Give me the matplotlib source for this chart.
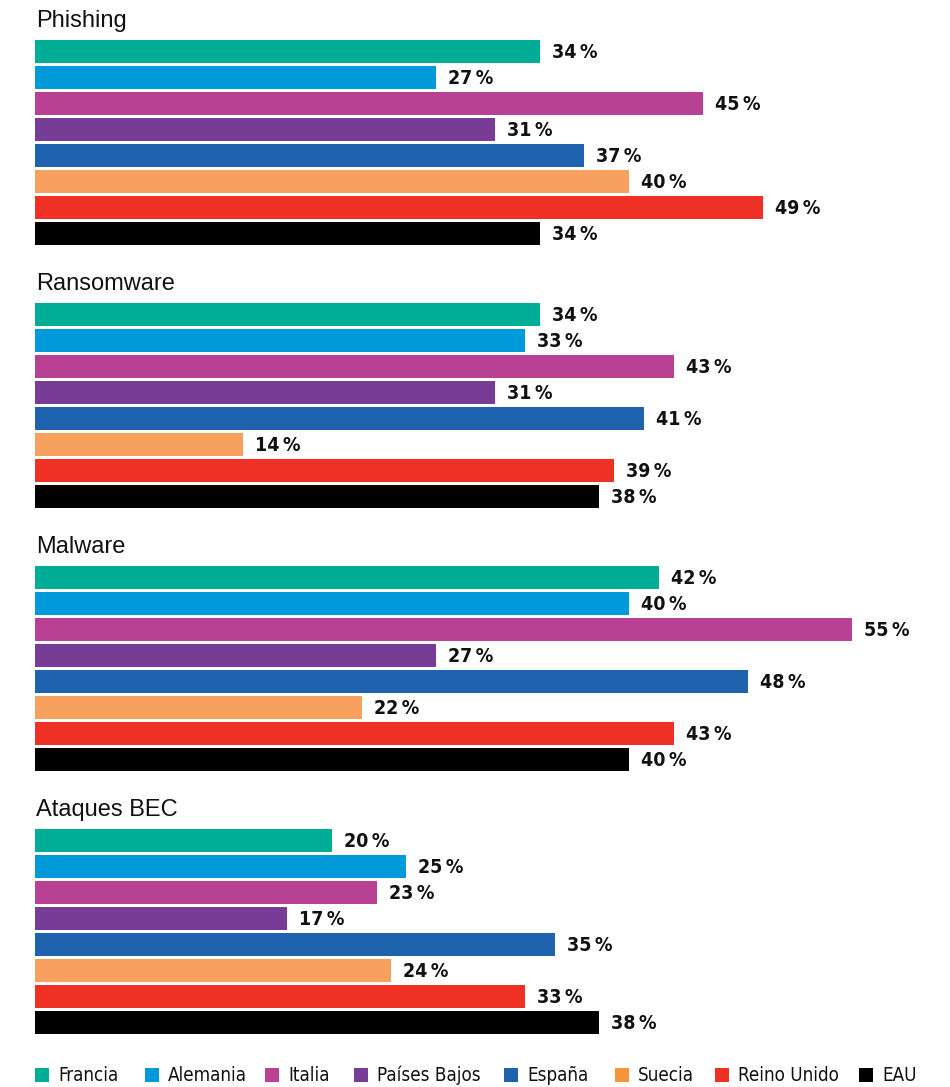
import matplotlib
matplotlib.use("Agg")
import matplotlib.pyplot as plt
from matplotlib import font_manager
from matplotlib.font_manager import FontProperties
from matplotlib.patches import Rectangle

sections = ["Phishing", "Ransomware", "Malware", "Ataques BEC"]
countries = ["Francia", "Alemania", "Italia", "Países Bajos", "España", "Suecia", "Reino Unido", "EAU"]
phishing = [34, 27, 45, 31, 37, 40, 49, 34]
ransomware = [34, 33, 43, 31, 41, 14, 39, 38]
malware = [42, 40, 55, 27, 48, 22, 43, 40]
bec = [20, 25, 23, 17, 35, 24, 33, 38]
values = [phishing, ransomware, malware, bec]
colors = ["#00AE97", "#009ADA", "#B94194", "#773D96", "#1F63AE", "#F8A15E", "#EE3124", "#000000"]
legend_colors = ["#00AE97", "#009ADA", "#B94194", "#773D96", "#1F63AE", "#F7943A", "#EE3124", "#000000"]


def find_condensed(bold):
    best = None
    for f in font_manager.fontManager.ttflist:
        n = f.name.lower()
        st = str(f.stretch).lower()
        is_cond = ("narrow" in n or "condensed" in n or "condensed" in st
                   or (isinstance(f.stretch, int) and f.stretch < 500))
        if not is_cond or "mono" in n or "serif" in n and "sans" not in n:
            continue
        if f.style != "normal":
            continue
        w = f.weight if isinstance(f.weight, int) else (700 if "bold" in str(f.weight) else 400)
        if bold and w >= 600:
            return f.fname
        if not bold and w < 600 and best is None:
            best = f.fname
    return best


bold_path = find_condensed(True)
reg_path = find_condensed(False)
if bold_path:
    label_fp = FontProperties(fname=bold_path, size=14)
else:
    label_fp = FontProperties(family="Liberation Sans", weight="bold", size=13)
if reg_path:
    legend_fp = FontProperties(fname=reg_path, size=13.5)
else:
    legend_fp = FontProperties(family="Liberation Sans", size=12)
title_fp = FontProperties(family="Liberation Sans", size=17)

W, H = 950, 1087
fig = plt.figure(figsize=(W / 100, H / 100), dpi=100)
px_per_pct = 14.85
left = 35
ax = fig.add_axes([left / W, 0, (W - left) / W, 1])
ax.set_xlim(0, (W - left) / px_per_pct)
ax.set_ylim(H, 0)
ax.axis("off")

first_center = 51.3
row_pitch = 26
sec_pitch = 263
bar_h = 22.7

for s, (title, vals) in enumerate(zip(sections, values)):
    base = first_center + s * sec_pitch
    ys = [base + i * row_pitch for i in range(len(vals))]
    ax.barh(ys, vals, height=bar_h, color=colors, linewidth=0)
    ax.text(0.05, base - 24, title, fontproperties=title_fp, va="baseline", ha="left", color="#111111")
    for y, v in zip(ys, vals):
        ax.text(v + 12 / px_per_pct, y + 1, f"{v}\u2009%", fontproperties=label_fp,
                va="center", ha="left", color="#111111")

# legend
sq_x = [35, 145, 265, 354, 504, 615, 715, 859]
for i, (c, name) in enumerate(zip(legend_colors, countries)):
    x0 = sq_x[i]
    fig.patches.append(Rectangle((x0 / W, (H - 1082) / H), 14 / W, 14 / H,
                                 transform=fig.transFigure, color=c, linewidth=0))
    fig.text((x0 + 23) / W, (H - 1081) / H, name, fontproperties=legend_fp,
             va="baseline", ha="left", color="#111111")

fig.savefig("out.png", dpi=100)
